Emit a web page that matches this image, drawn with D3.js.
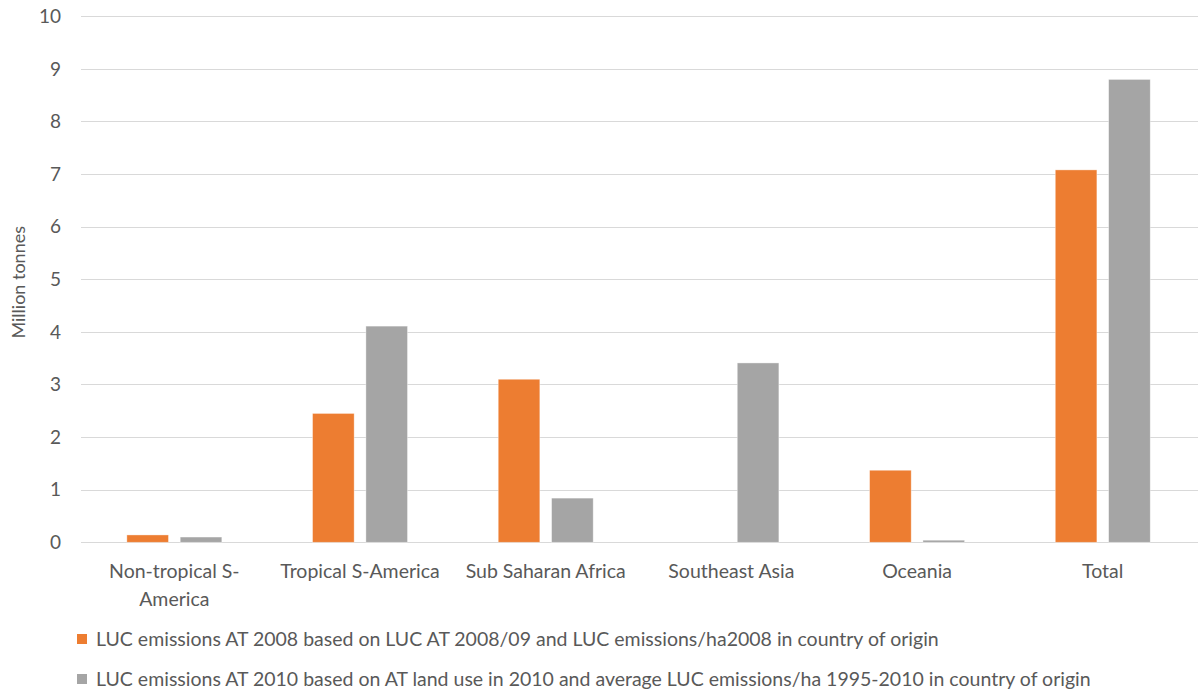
<!DOCTYPE html>
<html>
<head>
<meta charset="utf-8">
<script src="https://cdn.jsdelivr.net/npm/d3@7"></script>
<style>
  body { margin: 0; background: #fff; }
  svg text { font-family: Lato, "Open Sans", sans-serif; fill: #595959; }
</style>
</head>
<body>
<svg id="chart" width="1198" height="692"></svg>
<script>
// Regions and LUC emission estimates (million tonnes)
const categories = ["Non-tropical S-America", "Tropical S-America", "Sub Saharan Africa", "Southeast Asia", "Oceania", "Total"];
const categoryLines = [["Non-tropical S-", "America"], ["Tropical S-America"], ["Sub Saharan Africa"], ["Southeast Asia"], ["Oceania"], ["Total"]];
const seriesNames = [
  "LUC emissions AT 2008 based on LUC AT 2008/09 and LUC emissions/ha2008 in country of origin",
  "LUC emissions AT 2010 based on AT land use in 2010 and average LUC emissions/ha 1995-2010 in country of origin"
];
const emissions2008 = [0.14, 2.45, 3.10, 0, 1.37, 7.08];
const emissions2010 = [0.10, 4.11, 0.84, 3.41, 0.04, 8.80];
const yTicks = [0, 1, 2, 3, 4, 5, 6, 7, 8, 9, 10];
const colors = ["#ED7D31", "#A5A5A5"];

const svg = d3.select("#chart");
const plotLeft = 81.5, plotRight = 1195.6, plotTop = 16.3, plotBottom = 542.3;

const x = d3.scaleBand().domain(categories).range([plotLeft, plotRight]).paddingInner(0).paddingOuter(0);
const y = d3.scaleLinear().domain([0, 10]).range([plotBottom, plotTop]);
const inner = d3.scaleBand().domain([0, 1]).range([0, x.bandwidth()]).paddingInner(0.22).paddingOuter(0.85);

// horizontal gridlines
svg.append("g").selectAll("line").data(yTicks).join("line")
  .attr("x1", plotLeft - 0.5).attr("x2", 1198)
  .attr("y1", d => Math.round(y(d)) + 0.5).attr("y2", d => Math.round(y(d)) + 0.5)
  .attr("stroke", "#d9d9d9").attr("stroke-width", 1);

// y tick labels
svg.append("g").selectAll("text").data(yTicks).join("text")
  .attr("x", 61).attr("y", d => y(d))
  .attr("dy", "0.35em").attr("text-anchor", "end")
  .style("font-size", "19px")
  .text(d => d);

// y axis title
svg.append("text")
  .attr("transform", `translate(25,${(plotTop + plotBottom) / 2 + 3}) rotate(-90)`)
  .attr("text-anchor", "middle")
  .style("font-size", "18px")
  .text("Million tonnes");

// bars
const series = [emissions2008, emissions2010];
series.forEach((vals, si) => {
  svg.append("g").selectAll("rect").data(vals).join("rect")
    .attr("x", (d, i) => x(categories[i]) + inner(si))
    .attr("width", inner.bandwidth())
    .attr("y", d => y(d))
    .attr("height", d => y(0) - y(d))
    .attr("fill", colors[si])
    .attr("stroke", "#fff").attr("stroke-opacity", 0.5).attr("stroke-width", 0.75);
});

// category labels
const xl = svg.append("g");
categoryLines.forEach((lines, i) => {
  const cx = x(categories[i]) + x.bandwidth() / 2;
  const t = xl.append("text")
    .attr("x", cx)
    .attr("y", 578)
    .attr("text-anchor", "middle")
    .style("font-size", "19.5px");
  lines.forEach((ln, j) => {
    t.append("tspan").attr("x", cx).attr("dy", j === 0 ? 0 : 28).text(ln);
  });
});

// legend
const lg = svg.append("g");
seriesNames.forEach((name, i) => {
  const cy = 639 + i * 40;
  lg.append("rect").attr("x", 77).attr("y", cy - 5).attr("width", 10).attr("height", 10).attr("fill", colors[i]);
  lg.append("text").attr("x", 96).attr("y", cy).attr("dy", "0.35em")
    .style("font-size", "19.5px").text(name);
});
</script>
</body>
</html>
